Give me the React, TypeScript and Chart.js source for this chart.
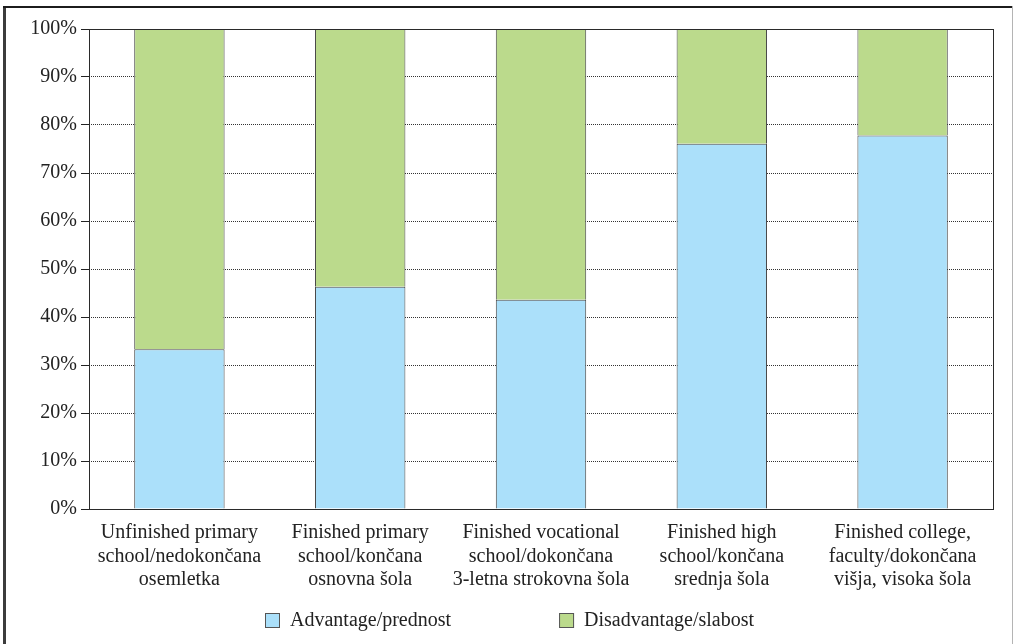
import React, { useEffect, useRef } from "react";
import { Chart, registerables } from "chart.js";

Chart.register(...registerables);

const categories: string[][] = [
  ["Unfinished primary", "school/nedokončana", "osemletka"],
  ["Finished primary", "school/končana", "osnovna šola"],
  ["Finished vocational", "school/dokončana", "3-letna strokovna šola"],
  ["Finished high", "school/končana", "srednja šola"],
  ["Finished college,", "faculty/dokončana", "višja, visoka šola"],
];
const advantage = [33.3, 46.3, 43.6, 76.1, 77.8];
const disadvantage = [66.7, 53.7, 56.4, 23.9, 22.2];
const seriesLabels = ["Advantage/prednost", "Disadvantage/slabost"];
const yTickValues = [0, 10, 20, 30, 40, 50, 60, 70, 80, 90, 100];

const BLUE = "#ABE0FA";
const GREEN = "#BBDA8C";
const FONT = "Liberation Serif, DejaVu Serif";

const framePlugin = {
  id: "frameAndLegend",
  beforeDraw(chart: any) {
    const { ctx, width, height } = chart;
    ctx.save();
    ctx.fillStyle = "#ffffff";
    ctx.fillRect(0, 0, width, height);
    ctx.fillStyle = "#3c3c3c";
    ctx.fillRect(3, 6, 3, height - 6);
    ctx.fillStyle = "#1c1c1c";
    ctx.fillRect(3, 6, 1010, 2);
    ctx.fillStyle = "#b4b4b4";
    ctx.fillRect(1012, 6, 1, height - 6);
    ctx.restore();
  },
  afterDatasetsDraw(chart: any) {
    const { ctx, chartArea } = chart;
    ctx.save();
    ctx.strokeStyle = "#2a2a2a";
    ctx.lineWidth = 1;
    ctx.strokeRect(
      Math.round(chartArea.left) + 0.5,
      Math.round(chartArea.top) + 0.5,
      Math.round(chartArea.right - chartArea.left),
      Math.round(chartArea.bottom - chartArea.top)
    );
    ctx.restore();
  },
  afterDraw(chart: any) {
    const { ctx } = chart;
    ctx.save();
    ctx.font = `20px ${FONT}`;
    ctx.textBaseline = "middle";
    ctx.textAlign = "left";
    const items = chart.data.datasets.map((ds: any) => ({
      text: ds.label as string,
      color: ds.backgroundColor as string,
    }));
    const box = 15;
    const gapText = 10;
    const gapItems = 108;
    const widths = items.map((it: any) => box + gapText + ctx.measureText(it.text).width);
    const total = widths.reduce((a: number, b: number) => a + b, 0) + gapItems * (items.length - 1);
    let x = Math.round(510 - total / 2);
    const y = 620;
    items.forEach((it: any, i: number) => {
      ctx.fillStyle = it.color;
      ctx.fillRect(x, y - 7, box, box);
      ctx.strokeStyle = "#555555";
      ctx.lineWidth = 1;
      ctx.strokeRect(x + 0.5, y - 7 + 0.5, box - 1, box - 1);
      ctx.fillStyle = "#222222";
      ctx.fillText(it.text, x + box + gapText, y + 1);
      x += widths[i] + gapItems;
    });
    ctx.restore();
  },
};

export default function App() {
  const canvasRef = useRef<HTMLCanvasElement | null>(null);

  useEffect(() => {
    if (!canvasRef.current) return;
    const chart = new Chart(canvasRef.current, {
      type: "bar",
      data: {
        labels: categories,
        datasets: [
          {
            label: seriesLabels[0],
            data: advantage,
            backgroundColor: BLUE,
            borderColor: "#4a4a4a",
            borderWidth: 1,
            categoryPercentage: 1,
            barPercentage: 0.5,
          },
          {
            label: seriesLabels[1],
            data: disadvantage,
            backgroundColor: GREEN,
            borderColor: "#4a4a4a",
            borderWidth: 1,
            categoryPercentage: 1,
            barPercentage: 0.5,
          },
        ],
      },
      options: {
        responsive: false,
        animation: false,
        layout: { padding: { top: 29, right: 22, bottom: 0, left: 0 } },
        plugins: {
          legend: { display: false },
          tooltip: { enabled: false },
        },
        scales: {
          x: {
            stacked: true,
            grid: { display: false },
            border: { display: false },
            ticks: {
              color: "#222222",
              font: { family: FONT, size: 20, lineHeight: 1.175 },
              padding: 4,
              maxRotation: 0,
              autoSkip: false,
            },
            afterFit(scale: any) {
              scale.height = 135;
            },
          },
          y: {
            stacked: true,
            min: 0,
            max: 100,
            afterBuildTicks(scale: any) {
              scale.ticks = yTickValues.map((v) => ({ value: v }));
            },
            grid: {
              color: "#333333",
              lineWidth: 1,
              drawTicks: true,
              tickLength: 8,
              tickColor: "#222222",
              tickBorderDash: [],
            },
            border: { display: false, dash: [1, 1] },
            ticks: {
              color: "#222222",
              font: { family: FONT, size: 20 },
              padding: 4,
              callback: (v: any) => `${v}%`,
            },
            afterFit(scale: any) {
              scale.width = 89;
            },
          },
        },
      },
      plugins: [framePlugin],
    });
    return () => chart.destroy();
  }, []);

  return (
    <div style={{ position: "absolute", left: 0, top: 0, width: 1015, height: 644 }}>
      <canvas ref={canvasRef} width={1015} height={644} style={{ display: "block" }} />
    </div>
  );
}
